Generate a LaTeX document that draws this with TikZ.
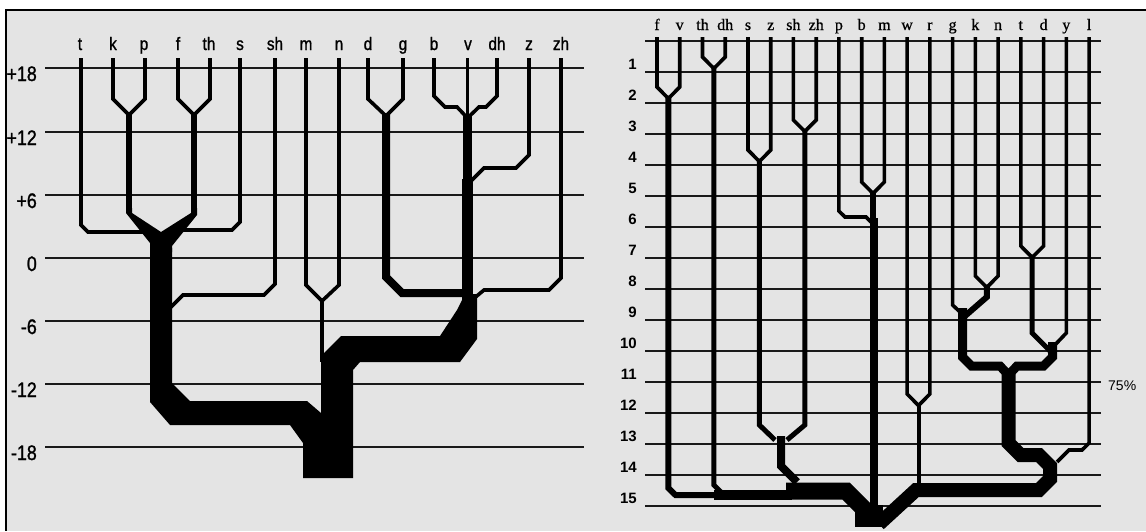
\documentclass[tikz,border=0pt]{standalone}
\usepackage{fontspec}
\newfontfamily\lsans[FakeStretch=0.85,FakeBold=1.2]{Liberation Sans}
\newfontfamily\rserif[FakeBold=0.8]{Liberation Serif}
\newfontfamily\rsans{Liberation Sans}
\definecolor{bgc}{RGB}{228,228,228}
\begin{document}
\begin{tikzpicture}[x=1pt,y=-1pt,
  gridline/.style={line width=2.5pt,black!90},
  leaf/.style={line width=3.6pt,line join=miter,miter limit=20},
  br/.style={line width=#1,line join=miter,miter limit=20},
  ltop/.style={font=\lsans\fontsize{18}{18}\selectfont,anchor=base,inner sep=0pt},
  lnum/.style={font=\lsans\fontsize{21}{21}\selectfont,anchor=base east,inner sep=0pt},
  rtop/.style={font=\rserif\fontsize{16}{16}\selectfont,anchor=base,inner sep=0pt},
  rnum/.style={font=\rsans\bfseries\fontsize{15}{15}\selectfont,anchor=base east,inner sep=0pt},
  pct/.style={font=\rsans\fontsize{14}{14}\selectfont,anchor=base west,inner sep=0pt}]
\useasboundingbox (0,0) rectangle (1146,531);
\fill[white] (0,0) rectangle (1146,531);
\fill[bgc] (6,10) rectangle (1146,531);
\draw[line width=2pt] (1146,10) -- (6,10) -- (6,531);

% ---------------- left panel: grid and scale ----------------
\foreach \yy/\lab in {68/+18,132/+12,195/+6,258/0,321/-6,384/-12,447/-18}{
  \draw[gridline] (45,\yy) -- (584,\yy);
  \node[lnum] (ln\yy) at (37,\yy+13) {\lab};
}
\foreach \nm/\xx in {t/80,k/113,p/144,f/178,th/209,s/240,sh/275,m/306,n/339,d/368,g/403,b/434,v/468,dh/497,z/529,zh/561}{
  \node[ltop] (L\nm) at (\xx,50) {\nm};
}
% merge points (left)
\coordinate (lkp) at (129,115);
\coordinate (lfth) at (194,115);
\coordinate (lmn) at (322,301);
\coordinate (ldg) at (386,116);
\coordinate (lbvdh) at (467.5,118);

% leaves
\draw[leaf] (81,58) -- (81,225) -- (88,232) -- (146,232);
\draw[leaf] (113,58) -- (113,99) -- (lkp);
\draw[leaf] (145,58) -- (145,99) -- (lkp);
\draw[leaf] (178,58) -- (178,99) -- (lfth);
\draw[leaf] (210,58) -- (210,99) -- (lfth);
\draw[leaf] (240,58) -- (240,222) -- (232,230) -- (178,230);
\draw[leaf] (275,58) -- (275,284) -- (264,295) -- (183,295) -- (166,312);
\draw[leaf] (306,58) -- (306,285) -- (lmn);
\draw[leaf] (339,58) -- (339,285) -- (lmn);
\draw[leaf] (368,58) -- (368,99) -- (ldg);
\draw[leaf] (403,58) -- (403,99) -- (ldg);
\draw[leaf] (434,58) -- (434,96) -- (445,107) -- (457,107) -- (lbvdh);
\draw[leaf] (467.5,58) -- (lbvdh);
\draw[leaf] (497,58) -- (497,96) -- (486,107) -- (479,107) -- (lbvdh);
\draw[leaf] (529,58) -- (529,155) -- (516,168) -- (484,168) -- (470,182);
\draw[leaf] (561,58) -- (561,278) -- (549,290) -- (484,290) -- (472,300);

% branches
\draw[br=6pt] ([yshift=3pt]lkp) -- (129,212);
\draw[br=6pt] ([yshift=3pt]lfth) -- (194,212);
\fill (126,208) -- (126,213) -- (150,243) -- (150,252) -- (172,252) -- (172,246)
  -- (197,215) -- (197,208) -- (191,208) -- (191,213) -- (161,232) -- (132,213) -- (132,208) -- cycle;
\draw[br=4pt] ([yshift=3pt]lmn) -- (322,362);
\draw[br=8pt] ([yshift=3pt]ldg) -- (386,277) -- (402,293) -- (463,293);
\draw[br=9pt] ([yshift=2pt]lbvdh) -- (467.5,183);
\draw[br=11pt] (467.5,179) -- (467.5,300);
\fill (150,248) -- (150,402) -- (170,425) -- (290,425) -- (303,443) -- (303,478)
  -- (353,478) -- (353,370) -- (360,362) -- (460,362) -- (477,339) -- (477,294)
  -- (462,294) -- (462,300) -- (457,310) -- (440,336) -- (341,336) -- (321,356)
  -- (321,413) -- (307,401) -- (190,401) -- (172,383) -- (172,248) -- cycle;

% ---------------- right panel: grid and scale ----------------
\foreach \i in {0,...,15}{
  \pgfmathsetmacro\yy{41+31*\i}
  \draw[gridline] (645,\yy) -- (1101,\yy);
}
\foreach \i in {1,...,15}{
  \pgfmathsetmacro\yy{41+31*\i-2.5}
  \node[rnum] (rn\i) at (637,\yy) {\i};
}
\node[pct] (pct) at (1108,390) {75\%};
\foreach \nm/\xx in {f/657,v/679.7,th/702.5,dh/725.2,s/748,z/770.7,sh/793.4,zh/816.2,p/838.9,b/861.7,m/884.4,w/907.1,r/929.9,g/952.6,k/975.4,n/998.1,t/1020.8,d/1043.6,y/1066.3,l/1089.1}{
  \node[rtop] (R\nm) at (\xx,30) {\nm};
}
% merge points (right)
\coordinate (rfv) at (668.4,98.5);
\coordinate (rthdh) at (713.9,68.5);
\coordinate (rsz) at (759.4,161.5);
\coordinate (rshzh) at (804.8,131.5);
\coordinate (rbm) at (873,193.5);
\coordinate (rwr) at (918.5,405.5);
\coordinate (rkn) at (986.8,287.5);
\coordinate (rtd) at (1032.2,257.5);
\coordinate (rroot) at (869,527);

% leaves
\draw[leaf] (657,37) -- (657,87) -- (rfv);
\draw[leaf] (679.7,37) -- (679.7,87) -- (rfv);
\draw[leaf] (702.5,37) -- (702.5,57) -- (rthdh);
\draw[leaf] (725.2,37) -- (725.2,57) -- (rthdh);
\draw[leaf] (748,37) -- (748,150) -- (rsz);
\draw[leaf] (770.7,37) -- (770.7,150) -- (rsz);
\draw[leaf] (793.4,37) -- (793.4,120) -- (rshzh);
\draw[leaf] (816.2,37) -- (816.2,120) -- (rshzh);
\draw[leaf] (838.9,37) -- (838.9,211) -- (845,217) -- (866,217) -- (871,222);
\draw[leaf] (861.7,37) -- (861.7,182) -- (rbm);
\draw[leaf] (884.4,37) -- (884.4,182) -- (rbm);
\draw[leaf] (907.1,37) -- (907.1,394) -- (rwr);
\draw[leaf] (929.9,37) -- (929.9,394) -- (rwr);
\draw[leaf] (952.6,37) -- (952.6,305) -- (960,312);
\draw[leaf] (975.4,37) -- (975.4,276) -- (rkn);
\draw[leaf] (998.1,37) -- (998.1,276) -- (rkn);
\draw[leaf] (1020.8,37) -- (1020.8,246) -- (rtd);
\draw[leaf] (1043.6,37) -- (1043.6,246) -- (rtd);
\draw[leaf] (1066.3,37) -- (1066.3,333) -- (1052,348);
\draw[leaf] (1089.1,37) -- (1089.1,443) -- (1082,450) -- (1069,450) -- (1057,462);

% branches
\draw[br=6pt] ([yshift=3pt]rfv) -- (668.4,488) -- (675.5,495) -- (716,495);
\draw[br=5pt] ([yshift=3pt]rthdh) -- (713.9,485) -- (724,495);
\draw[br=10pt] (714,495) -- (792,495);
\draw[br=5pt] ([yshift=3pt]rsz) -- (759.4,425) -- (775,440);
\draw[br=5pt] ([yshift=3pt]rshzh) -- (804.8,425) -- (787,440);
\draw[br=8pt] (781,436) -- (781,466) -- (797,482);
\draw[br=17pt] (786,491) -- (846,491) -- (866,511);
\draw[br=6pt] ([yshift=3pt]rbm) -- (873,222);
\draw[br=8pt] (874,218) -- (874,506);
\draw[br=4pt] ([yshift=3pt]rwr) -- (918.5,484);
\draw[br=6pt] ([yshift=3pt]rkn) -- (986.8,297) -- (965,316);
\draw[br=9pt] (962.5,308) -- (962.5,357) -- (971.5,366) -- (1000,366) -- (1008.5,375);
\draw[br=5pt] ([yshift=3pt]rtd) -- (1032.2,333) -- (1051,352);
\draw[br=9pt] (1052.5,342) -- (1052.5,357) -- (1043.5,366) -- (1017,366) -- (1008.5,375);
\draw[br=14pt] (1008.5,370) -- (1008.5,443) -- (1020.5,455) -- (1039,455) -- (1050,466) -- (1050,479) -- (1039,490) -- (916,490) -- (879,524);
\draw[br=28pt] (869,505) -- (rroot);
\end{tikzpicture}
\end{document}
